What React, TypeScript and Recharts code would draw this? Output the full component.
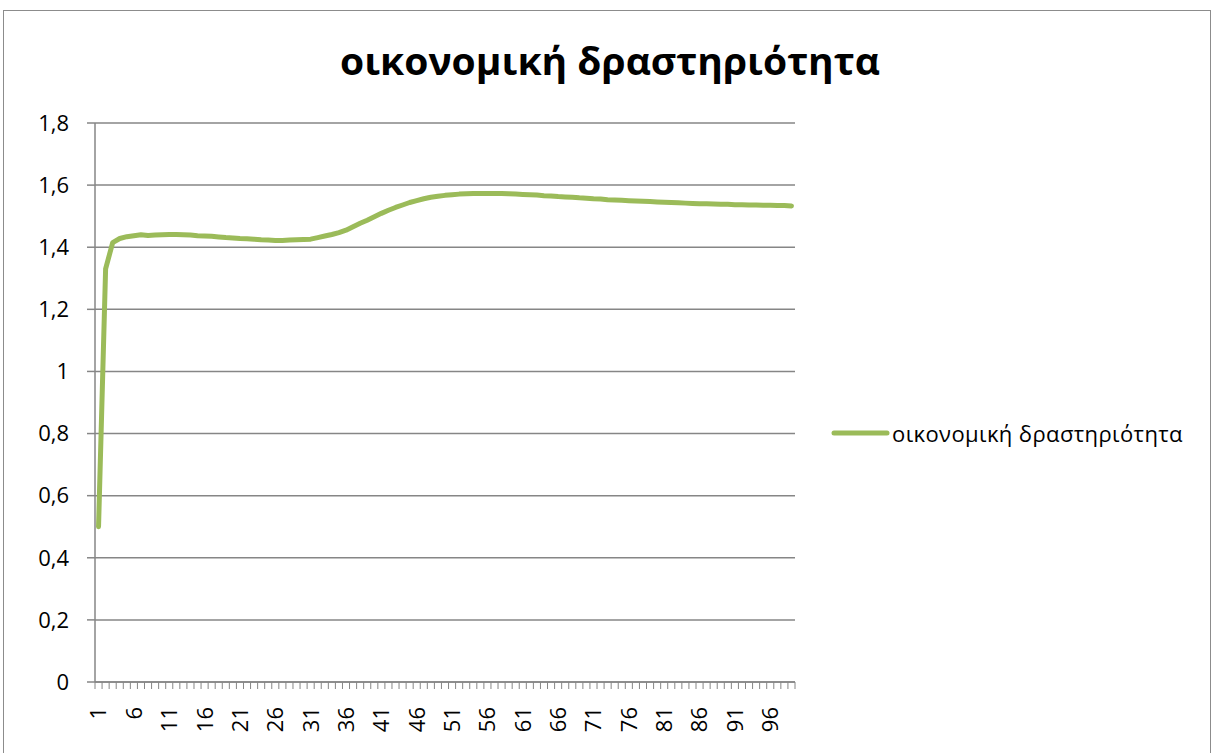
import React from 'react';
import { LineChart, Line, XAxis, YAxis, CartesianGrid, Legend, Customized } from 'recharts';

const seriesName = 'οικονομική δραστηριότητα';
const chartTitle = 'οικονομική δραστηριότητα';

// Periods 1..99
const periods: number[] = Array.from({ length: 99 }, (_, i) => i + 1);

const activity: number[] = [
  0.5, 1.33, 1.415, 1.428, 1.434, 1.437, 1.44, 1.438, 1.439, 1.44,
  1.441, 1.441, 1.44, 1.439, 1.437, 1.436, 1.435, 1.433, 1.431, 1.43,
  1.428, 1.427, 1.426, 1.424, 1.423, 1.422, 1.422, 1.423, 1.424, 1.425,
  1.426, 1.431, 1.436, 1.441, 1.447, 1.455, 1.466, 1.477, 1.487, 1.498,
  1.509, 1.519, 1.528, 1.536, 1.544, 1.55, 1.556, 1.561, 1.564, 1.567,
  1.569, 1.571, 1.572, 1.573, 1.573, 1.573, 1.573, 1.573, 1.572, 1.571,
  1.57, 1.569, 1.568, 1.566, 1.565, 1.563, 1.562, 1.561, 1.559, 1.558,
  1.556, 1.555, 1.553, 1.552, 1.551, 1.55, 1.549, 1.548, 1.547, 1.546,
  1.545, 1.544, 1.543, 1.542, 1.541, 1.54, 1.54, 1.539, 1.538, 1.538,
  1.537, 1.537, 1.536, 1.536, 1.535, 1.535, 1.534, 1.534, 1.533,
];

const xLabelTicks: number[] = [1, 6, 11, 16, 21, 26, 31, 36, 41, 46, 51, 56, 61, 66, 71, 76, 81, 86, 91, 96];
const xMinorTicks: number[] = Array.from({ length: 100 }, (_, i) => i + 0.5);
const yTicks: number[] = [0, 0.2, 0.4, 0.6, 0.8, 1, 1.2, 1.4, 1.6, 1.8];

const data = periods.map((p, i) => ({ period: p, value: activity[i] }));

const FONT = '"Open Sans", "Noto Sans", sans-serif';
const AXIS_GRAY = '#868686';
const LINE_GREEN = '#9BBB59';

const formatY = (v: number) => String(Number(v.toFixed(1))).replace('.', ',');

const RotatedTick = (props: any) => {
  const { x, y, payload } = props;
  return (
    <text
      x={x}
      y={y}
      dx={-24}
      dy="0.36em"
      transform={`rotate(-90, ${x}, ${y})`}
      textAnchor="end"
      fontFamily={FONT}
      fontSize={22}
      fill="#000"
    >
      {payload.value}
    </text>
  );
};

const EmptyTick = () => <g />;

const Title = () => (
  <text
    x={610}
    y={75}
    textAnchor="middle"
    fontFamily={FONT}
    fontWeight={700}
    fontSize={38}
    textLength={540}
    lengthAdjust="spacingAndGlyphs"
    fill="#000"
  >
    {chartTitle}
  </text>
);

const LegendContent = () => (
  <div style={{ display: 'flex', alignItems: 'center', fontFamily: FONT, fontSize: 22, letterSpacing: 0.4, color: '#000', whiteSpace: 'nowrap' }}>
    <svg width={62} height={12} style={{ display: 'block' }}>
      <line x1={4} y1={6} x2={57} y2={6} stroke={LINE_GREEN} strokeWidth={5} strokeLinecap="round" />
    </svg>
    <span>{seriesName}</span>
  </div>
);

export default function App() {
  return (
    <div style={{ position: 'absolute', left: 0, top: 0, width: 1214, height: 753, overflow: 'hidden', background: '#fff' }}>
      <div
        style={{
          position: 'absolute',
          left: 3,
          top: 10,
          width: 1208,
          height: 780,
          border: '1.5px solid #8c8c8c',
          boxSizing: 'border-box',
        }}
      />
      <div style={{ position: 'absolute', left: 0, top: 0 }}>
        <LineChart width={1214} height={753} data={data} margin={{ top: 123, right: 419, bottom: 0, left: 0 }}>
          <CartesianGrid vertical={false} stroke={AXIS_GRAY} strokeWidth={1.5} />
          <YAxis
            type="number"
            domain={[0, 1.8]}
            ticks={yTicks}
            interval={0}
            width={95}
            tickFormatter={formatY}
            tickSize={8}
            tickMargin={18}
            axisLine={{ stroke: AXIS_GRAY, strokeWidth: 1.5 }}
            tickLine={{ stroke: AXIS_GRAY, strokeWidth: 1.5 }}
            tick={{ fontFamily: FONT, fontSize: 22, fill: '#000' }}
          />
          <XAxis
            xAxisId="axisB"
            dataKey="period"
            type="number"
            domain={[0.5, 99.5]}
            ticks={xLabelTicks}
            interval={0}
            height={70}
            tickSize={0}
            tickMargin={0}
            axisLine={false}
            tickLine={false}
            tick={RotatedTick}
          />
          <XAxis
            xAxisId="axisA"
            dataKey="period"
            type="number"
            domain={[0.5, 99.5]}
            ticks={xMinorTicks}
            interval={0}
            height={1}
            tickSize={7}
            tick={EmptyTick}
            axisLine={{ stroke: AXIS_GRAY, strokeWidth: 1.5 }}
            tickLine={{ stroke: AXIS_GRAY, strokeWidth: 1 }}
          />
          <Line
            xAxisId="axisA"
            type="linear"
            dataKey="value"
            name={seriesName}
            stroke={LINE_GREEN}
            strokeWidth={5}
            strokeLinecap="round"
            strokeLinejoin="round"
            dot={false}
            activeDot={false}
            isAnimationActive={false}
          />
          <Legend
            content={LegendContent}
            layout="horizontal"
            align="center"
            verticalAlign="middle"
            wrapperStyle={{ position: 'absolute', left: 830, top: 418, width: 380 }}
          />
          <Customized component={Title} />
        </LineChart>
      </div>
    </div>
  );
}
